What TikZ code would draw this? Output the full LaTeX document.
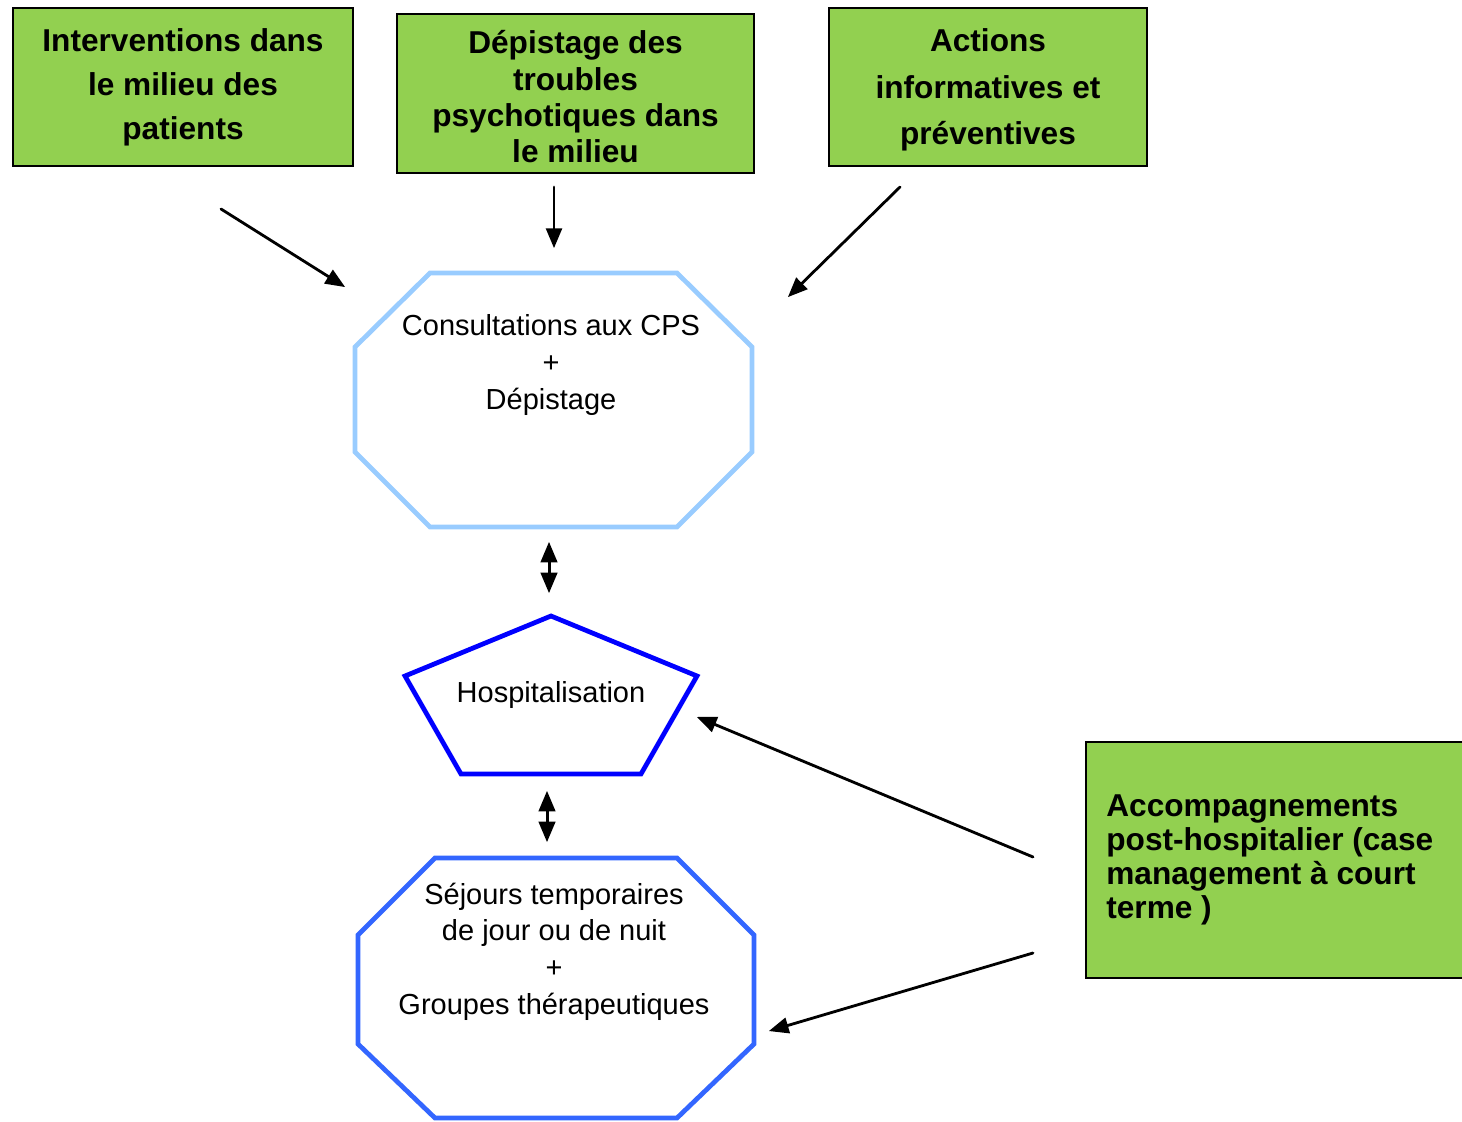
\documentclass[tikz,border=0pt]{standalone}
\usepackage{fontspec}
\setmainfont{Liberation Sans}
\usetikzlibrary{arrows}
\definecolor{vert}{HTML}{92D050}
\definecolor{bleuclair}{HTML}{99CCFF}
\definecolor{bleu}{HTML}{0000FF}
\definecolor{bleumoyen}{HTML}{3366FF}

\begin{document}
\begin{tikzpicture}[line cap=round,line join=round,>=triangle 45,x=0.02cm,y=-0.02cm,
  boite/.style={draw=black,fill=vert,line width=1.1pt,line join=miter,inner sep=0pt},
  titre/.style={align=center,inner sep=0pt,font=\fontsize{18}{25}\selectfont\bfseries},
  texte/.style={align=center,inner sep=0pt,font=\fontsize{16.5}{21}\selectfont},
  forme/.style={line width=2.7pt,line join=miter},
  fleche/.style={->,line width=1.6pt}]
\useasboundingbox (0,0) rectangle (1462,1121);
% les trois actions du haut
\node[boite,minimum width=6.8cm,minimum height=3.16cm] (interv) at (183,87) {};
\node[titre] (interv-t) at (183,87.5) {Interventions dans\\le milieu des\\patients};
\node[boite,minimum width=7.14cm,minimum height=3.18cm] (depist) at (575.5,93.5) {};
\node[titre,font=\fontsize{18}{20.7}\selectfont\bfseries] (depist-t) at (575.5,97) {Dépistage des\\troubles\\psychotiques dans\\le milieu};
\node[boite,minimum width=6.36cm,minimum height=3.16cm] (actions) at (988,87) {};
\node[titre,font=\fontsize{18}{26.5}\selectfont\bfseries] (actions-t) at (988,90) {Actions\\informatives et\\préventives};
% accompagnement
\node[boite,minimum width=7.8cm,minimum height=4.72cm] (accomp) at (1281,860) {};
\node[titre,align=left,anchor=west,font=\fontsize{18}{19.35}\selectfont\bfseries] (accomp-t) at (1106,860) {Accompagnements\\post-hospitalier (case\\management à court\\terme )};
%
\draw[forme,bleuclair] (430,273)--(677,273)--(752,347)--(752,452)--(677,527)--(430,527)--(355,452)--(355,347)--cycle;
\node[texte] (cps) at (551,365) {Consultations aux CPS\\+\\Dépistage};
\draw[forme,bleu] (551,616)--(697,676)--(641,774)--(461,774)--(405,676)--cycle;
\node[texte] (hosp) at (551,695) {Hospitalisation};
\draw[forme,bleumoyen] (435,858)--(677,858)--(754,935)--(754,1044)--(677,1118)--(435,1118)--(358,1044)--(358,935)--cycle;
\node[texte,font=\fontsize{16.5}{20.9}\selectfont] (sejours) at (554,951.5) {Séjours temporaires\\de jour ou de nuit\\+\\Groupes thérapeutiques};
% bouts des fleches
\coordinate (a1) at (221,209);
\coordinate (b1) at (345,287);
\coordinate (a2) at (554,187);
\coordinate (b2) at (554,248);
\coordinate (a3) at (900,187);
\coordinate (b3) at (788,297);
\coordinate (a4) at (549,542);
\coordinate (b4) at (549,593);
\coordinate (a5) at (547,791);
\coordinate (b5) at (547,842);
\coordinate (a6) at (1033,857);
\coordinate (b6) at (697,717);
\coordinate (a7) at (1033,953);
\coordinate (b7) at (769,1031);
\draw[fleche] (a1)--(b1);
\draw[fleche] (a2)--(b2);
\draw[fleche] (a3)--(b3);
\draw[fleche,<->,line width=1.7pt] (a4)--(b4);
\draw[fleche,<->,line width=1.7pt] (a5)--(b5);
\draw[fleche] (a6)--(b6);
\draw[fleche] (a7)--(b7);
\end{tikzpicture}
\end{document}
